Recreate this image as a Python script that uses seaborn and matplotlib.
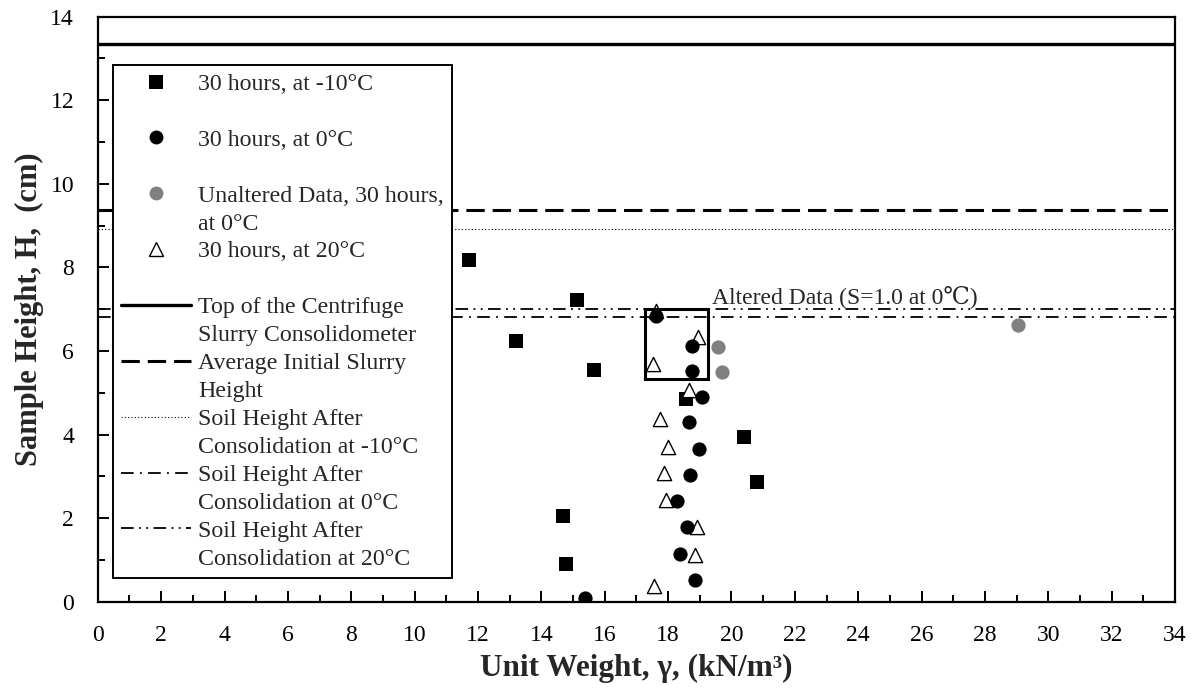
import matplotlib
matplotlib.use("Agg")
import matplotlib.pyplot as plt
from matplotlib.lines import Line2D
from matplotlib.patches import Rectangle
import seaborn as sns
import pandas as pd

# ---------------- data ----------------
sq_x = [11.72, 15.12, 13.19, 15.66, 18.55, 20.39, 20.79, 14.68, 14.77]
sq_y = [8.18, 7.21, 6.23, 5.54, 4.84, 3.94, 2.87, 2.05, 0.90]

circ_x = [17.62, 18.74, 18.74, 19.06, 18.66, 18.98, 18.69, 18.29, 18.58, 18.38, 18.84, 15.38]
circ_y = [6.83, 6.13, 5.53, 4.90, 4.29, 3.65, 3.03, 2.41, 1.78, 1.13, 0.51, 0.08]

gray_x = [19.58, 19.71, 29.05]
gray_y = [6.10, 5.50, 6.62]

tri_x = [17.61, 18.94, 17.52, 18.66, 17.75, 18.00, 17.86, 17.93, 18.92, 18.85, 17.57]
tri_y = [6.96, 6.33, 5.69, 5.07, 4.37, 3.71, 3.07, 2.43, 1.78, 1.12, 0.38]

top_height = 13.34
initial_slurry = 9.37
soil_m10 = 8.92
soil_0 = 6.82
soil_20 = 7.00

box_x = [17.28, 19.27]
box_y = [5.32, 7.01]

annot_text = "Altered Data (S=1.0 at 0℃)"
annot_pos = (19.38, 7.31)

x_ticks = list(range(0, 35, 2))
y_ticks = list(range(0, 15, 2))

legend_rows = [
    ("sq", "30 hours, at -10°C"),
    ("none", " "),
    ("circ", "30 hours, at 0°C"),
    ("none", " "),
    ("gray", "Unaltered Data, 30 hours,"),
    ("none", "at 0°C"),
    ("tri", "30 hours, at 20°C"),
    ("none", " "),
    ("solid", "Top of the Centrifuge"),
    ("none", "Slurry Consolidometer"),
    ("dash", "Average Initial Slurry"),
    ("none", "Height"),
    ("dot", "Soil Height After"),
    ("none", "Consolidation at -10°C"),
    ("dashdot", "Soil Height After"),
    ("none", "Consolidation at 0°C"),
    ("dashdotdot", "Soil Height After"),
    ("none", "Consolidation at 20°C"),
]

# ---------------- style ----------------
sns.set_style("ticks")
plt.rcParams["font.family"] = ["Liberation Serif", "DejaVu Serif"]

fig = plt.figure(figsize=(11.98, 6.96), dpi=100)
ax = fig.add_axes([0.0816, 0.1355, 0.8993, 0.8405])

styles = {
    "solid": dict(color="black", lw=2.4, ls="-"),
    "dash": dict(color="black", lw=2.2, ls=(0, (6, 2.6))),
    "dot": dict(color="black", lw=0.8, ls=(0, (1, 2))),
    "dashdot": dict(color="black", lw=1.3, ls=(0, (7, 3.5, 1, 3.5))),
    "dashdotdot": dict(color="black", lw=1.3, ls=(0, (7, 3, 1, 3, 1, 3))),
}

ax.axhline(top_height, zorder=2, **styles["solid"])
ax.axhline(initial_slurry, zorder=2, **styles["dash"])
ax.axhline(soil_m10, zorder=2, **styles["dot"])
ax.axhline(soil_0, zorder=2, **styles["dashdot"])
ax.axhline(soil_20, zorder=2, **styles["dashdotdot"])

df_sq = pd.DataFrame({"x": sq_x, "y": sq_y})
df_circ = pd.DataFrame({"x": circ_x, "y": circ_y})
df_gray = pd.DataFrame({"x": gray_x, "y": gray_y})
df_tri = pd.DataFrame({"x": tri_x, "y": tri_y})

sns.scatterplot(data=df_sq, x="x", y="y", marker="s", s=100, color="black",
                edgecolor="black", linewidth=0, ax=ax, zorder=3, legend=False)
sns.scatterplot(data=df_tri, x="x", y="y", marker="^", s=105, color="white",
                edgecolor="black", linewidth=1.0, ax=ax, zorder=3, legend=False)
sns.scatterplot(data=df_circ, x="x", y="y", marker="o", s=105, color="black",
                edgecolor="black", linewidth=0, ax=ax, zorder=3, legend=False)
sns.scatterplot(data=df_gray, x="x", y="y", marker="o", s=105, color="#808080",
                edgecolor="#808080", linewidth=0, ax=ax, zorder=3, legend=False)

ax.add_patch(Rectangle((box_x[0], box_y[0]), box_x[1] - box_x[0], box_y[1] - box_y[0],
                       fill=False, ec="black", lw=2.2, zorder=4))

ax.text(annot_pos[0], annot_pos[1], annot_text, fontsize=17, ha="left", va="center")

ax.set_xlim(0, 34)
ax.set_ylim(0, 14)
ax.set_xticks(x_ticks)
ax.set_xticks(range(0, 35), minor=True)
ax.set_yticks(y_ticks)
ax.set_yticks(range(0, 15), minor=True)
ax.tick_params(which="both", direction="in", top=False, right=False, width=1.4,
               colors="black")
ax.tick_params(which="major", length=8)
ax.tick_params(which="minor", length=5)
ax.tick_params(axis="x", which="both", labelsize=17, pad=17)
ax.tick_params(axis="y", which="both", labelsize=17, pad=17)

for sp in ax.spines.values():
    sp.set_visible(True)
    sp.set_color("black")
    sp.set_linewidth(1.6)

ax.set_xlabel("Unit Weight, γ, (kN/m³)", fontsize=22.5, fontweight="bold")
ax.set_ylabel("Sample Height, H,  (cm)", fontsize=22, fontweight="bold")
ax.xaxis.set_label_coords(0.5, -0.09)
ax.yaxis.set_label_coords(-0.05, 0.5)

# legend
handles = []
labels = []
for kind, lab in legend_rows:
    if kind == "sq":
        h = Line2D([0], [0], marker="s", ls="none", color="black", markersize=10, markeredgewidth=0)
    elif kind == "circ":
        h = Line2D([0], [0], marker="o", ls="none", color="black", markersize=10, markeredgewidth=0)
    elif kind == "gray":
        h = Line2D([0], [0], marker="o", ls="none", color="#808080", markersize=10, markeredgewidth=0)
    elif kind == "tri":
        h = Line2D([0], [0], marker="^", ls="none", markerfacecolor="white",
                   markeredgecolor="black", markersize=10, markeredgewidth=1.0)
    elif kind == "none":
        h = Line2D([0], [0], ls="none", color="none")
    else:
        h = Line2D([0], [0], **styles[kind])
    handles.append(h)
    labels.append(lab)

leg = ax.legend(handles, labels, loc="upper left", bbox_to_anchor=(0.0139, 0.917),
                borderaxespad=0, fontsize=17.2, frameon=True, fancybox=False,
                framealpha=1, edgecolor="black", handlelength=2.93,
                handletextpad=0.33, labelspacing=0.26, borderpad=0.33)
leg.get_frame().set_linewidth(1.4)
leg.set_zorder(5)

fig.savefig("out.png", dpi=100)
